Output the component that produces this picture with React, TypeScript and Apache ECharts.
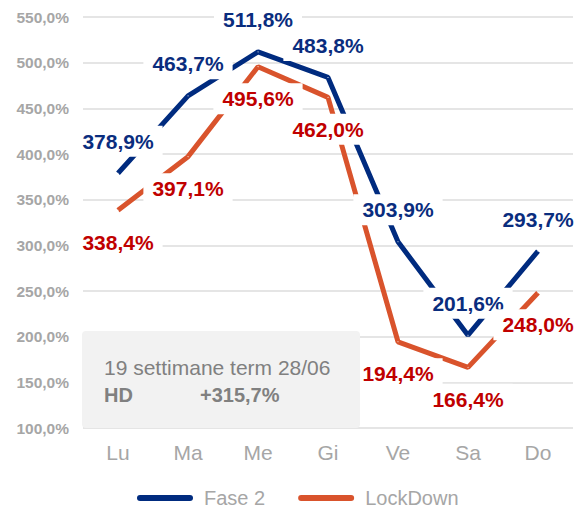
import React, { useEffect, useRef } from "react";
import * as echarts from "echarts";

const categories = ["Lu", "Ma", "Me", "Gi", "Ve", "Sa", "Do"];
const fase2 = [378.9, 463.7, 511.8, 483.8, 303.9, 201.6, 293.7];
const lockdown = [338.4, 397.1, 495.6, 462.0, 194.4, 166.4, 248.0];
const seriesNames = ["Fase 2", "LockDown"];
const boxLine1 = "19 settimane term 28/06";
const boxLabel = "HD";
const boxValue = "+315,7%";

const fmt = (v: number) => v.toFixed(1).replace(".", ",") + "%";

export default function App() {
  const ref = useRef<HTMLDivElement>(null);
  useEffect(() => {
    const chart = echarts.init(ref.current!, null, { renderer: "svg" });
    const font = "Liberation Sans, Arial, sans-serif";
    const capsule = "path://M3,0 H53 A3,3 0 0 1 53,6 H3 A3,3 0 0 1 3,0 Z";
    const labelBase = {
      show: true,
      distance: 16,
      fontSize: 21,
      fontWeight: "bold",
      fontFamily: font,
      backgroundColor: "#ffffff",
      padding: [5, 9],
      lineHeight: 21,
      opacity: 1,
      formatter: (p: any) => fmt(p.value),
    };
    chart.setOption({
      animation: false,
      backgroundColor: "#ffffff",
      textStyle: { fontFamily: font },
      grid: { left: 83, right: 2, top: 17, bottom: 81, containLabel: false },
      xAxis: {
        type: "category",
        data: categories,
        boundaryGap: true,
        axisLine: { show: false },
        axisTick: { show: false },
        axisLabel: { color: "#a6a6a6", fontSize: 21, margin: 14, fontFamily: font },
      },
      yAxis: {
        type: "value",
        min: 100,
        max: 550,
        interval: 50,
        axisLine: { show: false },
        axisTick: { show: false },
        axisLabel: {
          color: "#a6a6a6",
          fontSize: 15.5,
          fontWeight: "bold",
          margin: 14,
          fontFamily: font,
          formatter: (v: number) => fmt(v),
        },
        splitLine: { lineStyle: { color: "#dcdcdc", width: 1.5 } },
      },
      legend: {
        left: 137,
        top: 488,
        padding: 0,
        itemWidth: 56,
        itemHeight: 6,
        itemGap: 33,
        icon: capsule,
        textStyle: {
          color: "#a6a6a6",
          fontSize: 20,
          lineHeight: 18,
          fontFamily: font,
          padding: [0, 0, 0, 6],
        },
        data: seriesNames,
      },
      series: [
        {
          name: seriesNames[0],
          type: "line",
          data: fase2,
          symbol: "none",
          lineStyle: { color: "#002b7f", width: 5 },
          itemStyle: { color: "#002b7f" },
          z: 3,
        },
        {
          name: seriesNames[1],
          type: "line",
          data: lockdown,
          symbol: "none",
          lineStyle: { color: "#d9532c", width: 5 },
          itemStyle: { color: "#d9532c" },
          z: 2,
        },
        {
          name: "lbl1",
          type: "scatter",
          data: fase2,
          symbolSize: 1,
          itemStyle: { color: "#ffffff", opacity: 1 },
          z: 10,
          silent: true,
          label: { ...labelBase, position: "top", color: "#0a2d7e" },
        },
        {
          name: "lbl2",
          type: "scatter",
          data: lockdown,
          symbolSize: 1,
          itemStyle: { color: "#ffffff", opacity: 1 },
          z: 10,
          silent: true,
          label: { ...labelBase, position: "bottom", color: "#c00000" },
        },
      ],
      graphic: [
        {
          type: "rect",
          z: 50,
          shape: { x: 82, y: 331, width: 278, height: 97, r: 4 },
          style: { fill: "#f2f2f2" },
        },
        {
          type: "text",
          z: 51,
          x: 104,
          y: 367,
          style: {
            text: boxLine1,
            fill: "#808080",
            font: `21px ${font}`,
            verticalAlign: "middle",
          },
        },
        {
          type: "text",
          z: 51,
          x: 104,
          y: 395,
          style: {
            text: boxLabel,
            fill: "#808080",
            font: `bold 20px ${font}`,
            verticalAlign: "middle",
          },
        },
        {
          type: "text",
          z: 51,
          x: 200,
          y: 395,
          style: {
            text: boxValue,
            fill: "#808080",
            font: `bold 20px ${font}`,
            verticalAlign: "middle",
          },
        },
      ],
    });
    return () => chart.dispose();
  }, []);
  return (
    <div
      ref={ref}
      style={{ position: "absolute", left: 0, top: 0, width: 575, height: 509 }}
    />
  );
}
